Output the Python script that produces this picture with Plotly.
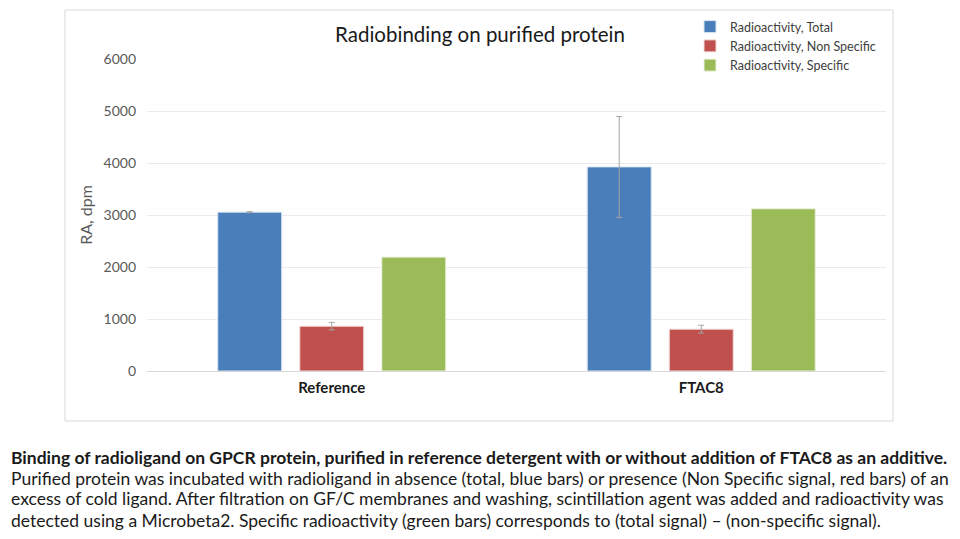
import plotly.graph_objects as go

# data
groups = ['Reference', 'FTAC8']
total = [3055, 3925]
total_err = [10, 970]
non_specific = [862, 805]
non_specific_err = [72, 75]
specific = [2190, 3120]

series_names = ['Radioactivity, Total', 'Radioactivity, Non Specific', 'Radioactivity, Specific']
colors = ['#4a7ebb', '#c0504d', '#9bbb59']

caption_lines = [
    '<b>Binding of radioligand on GPCR protein, purified in reference detergent with or without addition of FTAC8 as an additive.</b>',
    'Purified protein was incubated with radioligand in absence (total, blue bars) or presence (Non Specific signal, red bars) of an',
    'excess of cold ligand. After filtration on GF/C membranes and washing, scintillation agent was added and radioactivity was',
    'detected using a Microbeta2. Specific radioactivity (green bars) corresponds to (total signal) \u2013 (non-specific signal).',
]

FONT = 'Lato'
OFF = 8  # page body margin
W, H = 960 - OFF, 539 - OFF
# plot area in screen pixels: x 147..886, y 59..371
L, R, T, B = 147 - OFF, 960 - 886, 59 - OFF, 539 - 371
pw, ph = W - L - R, H - T - B


def px(x):
    # screen x -> paper
    return (x - OFF - L) / pw


def py(y):
    # screen y -> paper
    return (371 - y) / ph


err_style = dict(type='data', color='#a6a6a6', thickness=1, width=3, visible=True)

fig = go.Figure()
fig.add_bar(x=groups, y=total, name=series_names[0], marker=dict(color=colors[0], line=dict(color='#dbe5f1', width=1)),
            error_y=dict(array=total_err, **err_style))
fig.add_bar(x=groups, y=non_specific, name=series_names[1], marker=dict(color=colors[1], line=dict(color='#f2dcdb', width=1)),
            error_y=dict(array=non_specific_err, **err_style))
fig.add_bar(x=groups, y=specific, name=series_names[2], marker=dict(color=colors[2], line=dict(color='#ebf1de', width=1)))

fig.update_layout(
    width=W, height=H,
    margin=dict(l=L, r=R, t=T, b=B, autoexpand=False),
    paper_bgcolor='white', plot_bgcolor='white',
    font=dict(family=FONT, color='#404040'),
    barmode='group', bargap=0.334, bargroupgap=0.22,
    showlegend=True,
    legend=dict(x=px(690), y=py(12), xanchor='left', yanchor='top',
                font=dict(family=FONT, size=12.5, color='#404040'),
                bgcolor='rgba(0,0,0,0)', tracegroupgap=0, itemwidth=30),
    title=dict(text='Radiobinding on purified protein', x=px(480), xref='paper', xanchor='center',
               y=1 - (35 - OFF) / H, yanchor='middle',
               font=dict(family=FONT, size=20.5, color='#1a1a1a')),
)

fig.update_xaxes(showgrid=False, showline=False, ticks='', zeroline=False, ticklabelstandoff=6,
                 tickfont=dict(family=FONT, size=15, color='#1a1a1a', weight='bold'))
fig.update_yaxes(range=[0, 6000], dtick=1000, showgrid=True, gridcolor='#ebebeb', gridwidth=1,
                 zeroline=True, zerolinecolor='#d9d9d9', zerolinewidth=1, showline=False, ticks='',
                 ticklabelstandoff=10,
                 tickfont=dict(family=FONT, size=14, color='#595959'),
                 title=dict(text='RA, dpm', font=dict(family=FONT, size=16, color='#595959'), standoff=6))

# chart frame
fig.add_shape(type='rect', xref='paper', yref='paper', x0=px(65), x1=px(893), y0=py(421), y1=py(10),
              line=dict(color='#d9d9d9', width=1), fillcolor='rgba(0,0,0,0)', layer='below')

# caption
for i, line in enumerate(caption_lines):
    fig.add_annotation(text=line, xref='paper', yref='paper', x=px(9), y=py(457 + 21 * i),
                       xanchor='left', yanchor='middle', showarrow=False,
                       font=dict(family=FONT, size=17.5, color='#1a1a1a'))

fig.write_html('out.html')
